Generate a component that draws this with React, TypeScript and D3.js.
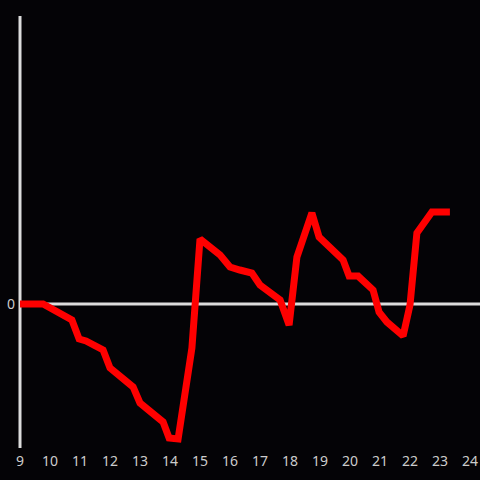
import React from "react";
import * as d3 from "d3";

const hours = [9.0, 9.77, 10.73, 10.97, 11.2, 11.77, 12.0, 12.77, 13.0, 13.77, 13.97, 14.27, 14.73, 15.0, 15.67, 16.0, 16.33, 16.73, 17.0, 17.67, 17.97, 18.23, 18.73, 18.97, 19.77, 19.97, 20.27, 20.77, 20.97, 21.23, 21.77, 22.0, 22.23, 22.73, 23.33];
const values = [0, 0, -0.111, -0.243, -0.257, -0.319, -0.444, -0.576, -0.6875, -0.819, -0.931, -0.9375, -0.306, 0.451, 0.34, 0.257, 0.236, 0.215, 0.132, 0.028, -0.146, 0.326, 0.632, 0.465, 0.306, 0.194, 0.194, 0.097, -0.056, -0.125, -0.222, -0.007, 0.493, 0.639, 0.639];
const xTicks = [9, 10, 11, 12, 13, 14, 15, 16, 17, 18, 19, 20, 21, 22, 23, 24];
const yTicks = [0];

export default function App() {
  const W = 480, H = 480;
  const x = d3.scaleLinear().domain([9, 24]).range([20, 470]);
  const y = d3.scaleLinear().domain([-1, 2]).range([448, 16]);
  const pts = hours.map((h, i) => [h, values[i]] as [number, number]);
  const line = d3.line<[number, number]>().x(d => x(d[0])).y(d => y(d[1]));
  return (
    <svg width={W} height={H} style={{ position: "absolute", left: 0, top: 0, background: "#040306" }}>
      <rect x={0} y={0} width={W} height={H} fill="#040306" />
      <line x1={x(9)} x2={x(9)} y1={y(2)} y2={y(-1)} stroke="#dcdcdc" strokeWidth={3} />
      {yTicks.map(t => (
        <g key={t}>
          <line x1={x(9)} x2={W} y1={y(t)} y2={y(t)} stroke="#dcdcdc" strokeWidth={3} />
          <text x={15} y={y(t)} dy="0.35em" textAnchor="end" fill="#cccccc" fontFamily="Noto Sans, sans-serif" fontSize={14}>{t}</text>
        </g>
      ))}
      {xTicks.map(t => (
        <text key={t} x={x(t)} y={461} dy="0.35em" textAnchor="middle" fill="#cccccc" fontFamily="Noto Sans, sans-serif" fontSize={14}>{t}</text>
      ))}
      <path d={line(pts) || ""} fill="none" stroke="#ff0000" strokeWidth={7} strokeLinejoin="miter" strokeMiterlimit={1.5} />
    </svg>
  );
}
